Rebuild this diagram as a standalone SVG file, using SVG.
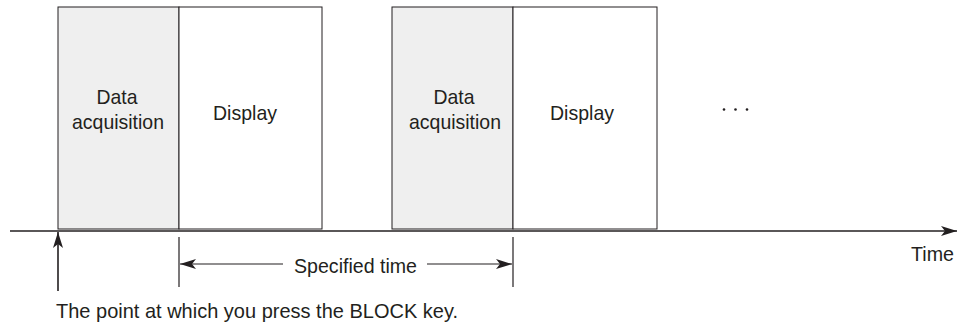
<svg xmlns="http://www.w3.org/2000/svg" width="967" height="331" viewBox="0 0 967 331">
<style>
text{font-family:"Liberation Sans",Arial,sans-serif;font-size:21px;fill:#231f20}
.c{text-anchor:middle}
.box{stroke:#231f20;stroke-width:1;fill:#fff}
.acq{fill:#efefef}
.ln{stroke:#231f20;stroke-width:1.2;fill:none}
.ax{stroke:#231f20;stroke-width:1.6;fill:none}
</style>
<defs>
<marker id="ah" viewBox="0 0 16 10" refX="16" refY="5" markerWidth="16" markerHeight="10" markerUnits="userSpaceOnUse" orient="auto-start-reverse">
<path d="M0,0 L16,5 L0,10 L4,5 Z" fill="#231f20"/>
</marker>
</defs>
<rect width="967" height="331" fill="#fff"/>
<g id="acq1"><rect class="box acq" x="58" y="7" width="121" height="222"/><text class="c" x="117" y="104" textLength="41" lengthAdjust="spacingAndGlyphs">Data</text><text class="c" x="118" y="129" textLength="92" lengthAdjust="spacingAndGlyphs">acquisition</text></g>
<g id="disp1"><rect class="box" x="179" y="7" width="143" height="222"/><text class="c" x="245" y="120" textLength="64" lengthAdjust="spacingAndGlyphs">Display</text></g>
<g id="acq2"><rect class="box acq" x="392" y="7" width="121" height="222"/><text class="c" x="454" y="104" textLength="41" lengthAdjust="spacingAndGlyphs">Data</text><text class="c" x="455" y="129" textLength="92" lengthAdjust="spacingAndGlyphs">acquisition</text></g>
<g id="disp2"><rect class="box" x="513" y="7" width="144" height="222"/><text class="c" x="582" y="120" textLength="64" lengthAdjust="spacingAndGlyphs">Display</text></g>
<g id="dots" fill="#231f20"><circle cx="724" cy="109.5" r="1.3"/><circle cx="735.5" cy="109.5" r="1.3"/><circle cx="747" cy="109.5" r="1.3"/></g>
<g id="connectors">
<line class="ax" x1="10" y1="231" x2="957" y2="231" marker-end="url(#ah)"/>
<line class="ax" x1="58" y1="291" x2="58" y2="232" marker-end="url(#ah)"/>
<line class="ln" x1="179" y1="237" x2="179" y2="287"/>
<line class="ln" x1="513" y1="237" x2="513" y2="287"/>
<line class="ln" x1="283" y1="264" x2="180" y2="264" marker-end="url(#ah)"/>
<line class="ln" x1="427" y1="264" x2="512" y2="264" marker-end="url(#ah)"/>
</g>
<text class="c" x="355.5" y="273" textLength="123" lengthAdjust="spacingAndGlyphs">Specified time</text>
<text x="954" y="261" text-anchor="end" textLength="43" lengthAdjust="spacingAndGlyphs">Time</text>
<text x="56" y="318" textLength="402" lengthAdjust="spacingAndGlyphs">The point at which you press the BLOCK key.</text>
</svg>
